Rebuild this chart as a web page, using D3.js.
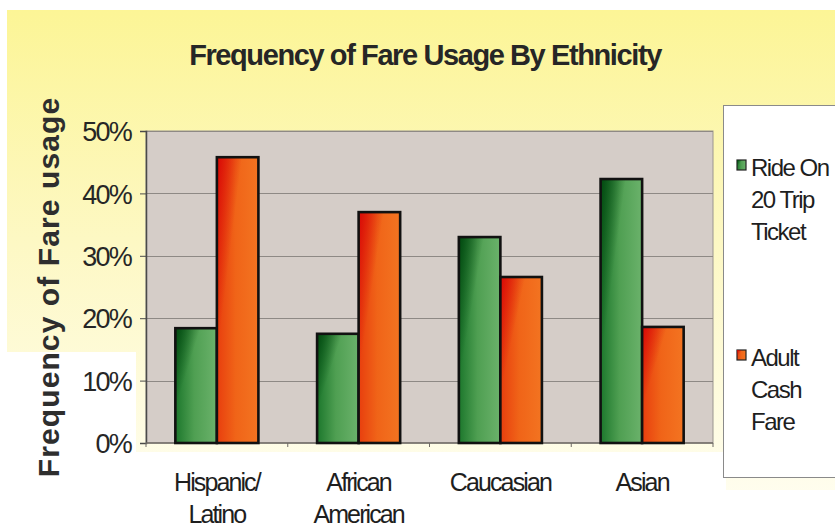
<!DOCTYPE html>
<html>
<head>
<meta charset="utf-8">
<script src="https://cdn.jsdelivr.net/npm/d3@7"></script>
<style>
  html, body { margin: 0; padding: 0; background: #ffffff; }
  svg { display: block; font-family: "Liberation Sans", Arial, sans-serif; }
</style>
</head>
<body>
<svg id="chart" width="835" height="529"></svg>
<script>
// Chart data
const categories = ["Hispanic/\nLatino", "African\nAmerican", "Caucasian", "Asian"];
const seriesNames = ["Ride On\n20 Trip\nTicket", "Adult\nCash\nFare"];
const rideOnTicket = [18.4, 17.5, 33.0, 42.3];
const adultCashFare = [45.8, 37.0, 26.6, 18.6];
const yTicks = [0, 10, 20, 30, 40, 50];
const titleText = "Frequency of Fare Usage By Ethnicity";
const yTitleText = "Frequency of Fare usage";

const seriesValues = [rideOnTicket, adultCashFare];

const svg = d3.select("#chart");
const W = 835, H = 529;
const plot = { left: 146, right: 713, top: 131, bottom: 443 };

const defs = svg.append("defs");

// Background: pale yellow wash fading downward
const bg = defs.append("linearGradient").attr("id", "bgGrad")
  .attr("x1", 0).attr("y1", 0).attr("x2", 0).attr("y2", 1);
bg.append("stop").attr("offset", 0).attr("stop-color", "#fcf596");
bg.append("stop").attr("offset", 0.45).attr("stop-color", "#fdf8c4");
bg.append("stop").attr("offset", 1).attr("stop-color", "#fffef4");

svg.append("rect").attr("width", W).attr("height", H).attr("fill", "#ffffff");
svg.append("rect").attr("x", 7).attr("y", 10).attr("width", W - 7).attr("height", H - 10)
  .attr("fill", "url(#bgGrad)");
// white lower panels around the axes
svg.append("rect").attr("x", 0).attr("y", 352).attr("width", 136).attr("height", H - 352)
  .attr("fill", "#ffffff");
svg.append("rect").attr("x", 0).attr("y", 490).attr("width", W).attr("height", H - 490)
  .attr("fill", "#ffffff");
svg.append("rect").attr("x", 136).attr("y", 452).attr("width", 590).attr("height", 80)
  .attr("fill", "#ffffff");

// Bar fills: horizontal shading plus a darker top
const fills = [
  { id: "green", stops: ["#1c772c", "#4f9f52", "#6bb26b"], top: "#00460e" },
  { id: "orange", stops: ["#e83e0e", "#f06418", "#f37421"], top: "#d80606" }
];
fills.forEach(f => {
  const g = defs.append("linearGradient").attr("id", f.id + "H")
    .attr("x1", 0).attr("y1", 0).attr("x2", 1).attr("y2", 0);
  g.append("stop").attr("offset", 0).attr("stop-color", f.stops[0]);
  g.append("stop").attr("offset", 0.45).attr("stop-color", f.stops[1]);
  g.append("stop").attr("offset", 1).attr("stop-color", f.stops[2]);
  const v = defs.append("linearGradient").attr("id", f.id + "V")
    .attr("x1", 0).attr("y1", 0).attr("x2", 0.35).attr("y2", 0.3);
  v.append("stop").attr("offset", 0).attr("stop-color", f.top).attr("stop-opacity", 0.95);
  v.append("stop").attr("offset", 1).attr("stop-color", f.top).attr("stop-opacity", 0);
});

// Scales
const x0 = d3.scaleBand().domain(d3.range(categories.length))
  .range([plot.left, plot.right]).padding(0);
const groupFrac = 0.586;
const x1 = d3.scaleBand().domain([0, 1])
  .range([x0.bandwidth() * (1 - groupFrac) / 2, x0.bandwidth() * (1 + groupFrac) / 2]);
const y = d3.scaleLinear().domain([0, 50]).range([plot.bottom, plot.top]);

// Plot area
svg.append("rect").attr("x", plot.left).attr("y", plot.top)
  .attr("width", plot.right - plot.left).attr("height", plot.bottom - plot.top)
  .attr("fill", "#d5cdc8").attr("stroke", "#9a9590").attr("stroke-width", 1);

// Gridlines
svg.append("g").selectAll("line").data(yTicks.filter(t => t > 0)).join("line")
  .attr("x1", plot.left).attr("x2", plot.right)
  .attr("y1", d => Math.round(y(d)) + 0.5).attr("y2", d => Math.round(y(d)) + 0.5)
  .attr("stroke", "#8e8985").attr("stroke-width", 1);

// Y axis
const yAxis = d3.axisLeft(y).tickValues(yTicks).tickSize(6).tickPadding(9)
  .tickFormat(d => d + "%");
const yg = svg.append("g").attr("transform", `translate(${plot.left},0)`).call(yAxis);
yg.select(".domain").attr("stroke", "#4a4a4a").attr("stroke-width", 1.5);
yg.selectAll(".tick line").attr("stroke", "#4a4a4a");
yg.selectAll(".tick text").attr("fill", "#262626")
  .style("font-size", "27px").style("letter-spacing", "-1.8px")
  .attr("dy", "0.36em");

// X axis (category boundaries)
const xg = svg.append("g").attr("transform", `translate(0,${plot.bottom})`);
xg.append("line").attr("x1", plot.left).attr("x2", plot.right)
  .attr("stroke", "#6f6a66").attr("stroke-width", 1.5);
xg.selectAll(".b").data(d3.range(categories.length + 1)).join("line")
  .attr("class", "b")
  .attr("x1", d => plot.left + d * x0.step()).attr("x2", d => plot.left + d * x0.step())
  .attr("y1", 0).attr("y2", 4).attr("stroke", "#6f6a66").attr("stroke-width", 1);

// Bars
const groups = svg.append("g").selectAll("g").data(categories).join("g")
  .attr("transform", (d, i) => `translate(${x0(i)},0)`);
groups.each(function(c, i) {
  const g = d3.select(this);
  seriesValues.forEach((vals, s) => {
    const bx = x1(s), by = y(vals[i]), bw = x1.bandwidth(), bh = y(0) - y(vals[i]);
    g.append("rect").attr("x", bx).attr("y", by).attr("width", bw).attr("height", bh)
      .attr("fill", `url(#${fills[s].id}H)`);
    g.append("rect").attr("x", bx).attr("y", by).attr("width", bw).attr("height", bh)
      .attr("fill", `url(#${fills[s].id}V)`)
      .attr("stroke", "#111").attr("stroke-width", 2.6);
  });
});

// Category labels
svg.append("g").selectAll("text").data(categories).join("text")
  .attr("x", (d, i) => x0(i) + x0.bandwidth() / 2)
  .attr("y", 491)
  .attr("text-anchor", "middle").attr("fill", "#1e1e1e")
  .style("font-size", "25px").style("letter-spacing", "-1.9px")
  .each(function(d) {
    d3.select(this).selectAll("tspan").data(d.split("\n")).join("tspan")
      .attr("x", d3.select(this).attr("x"))
      .attr("dy", (t, k) => k === 0 ? 0 : 32)
      .text(t => t);
  });

// Title
svg.append("text").attr("x", 425).attr("y", 65).attr("text-anchor", "middle")
  .attr("fill", "#262626").style("font-size", "29px").style("font-weight", "bold")
  .style("letter-spacing", "-1.4px")
  .text(titleText);

// Y title
svg.append("text").attr("transform", "translate(59,287) rotate(-90)")
  .attr("text-anchor", "middle").attr("fill", "#2e2e2e")
  .style("font-size", "30px").style("font-weight", "bold")
  .style("letter-spacing", "1.1px")
  .text(yTitleText);

// Legend
const lg = svg.append("g");
lg.append("rect").attr("x", 723.5).attr("y", 105.5).attr("width", 140).attr("height", 372)
  .attr("fill", "#ffffff").attr("stroke", "#8a8a8a").attr("stroke-width", 1);
const legendY = [176, 366];
seriesNames.forEach((name, s) => {
  const ty = legendY[s];
  lg.append("rect").attr("x", 737).attr("y", ty - 16).attr("width", 9).attr("height", 10)
    .attr("fill", `url(#${fills[s].id}H)`).attr("stroke", "#222").attr("stroke-width", 1.2);
  lg.append("rect").attr("x", 737).attr("y", ty - 16).attr("width", 9).attr("height", 10)
    .attr("fill", `url(#${fills[s].id}V)`);
  const t = lg.append("text").attr("x", 751).attr("y", ty).attr("fill", "#1e1e1e")
    .style("font-size", "24px").style("letter-spacing", "-1.5px");
  t.selectAll("tspan").data(name.split("\n")).join("tspan")
    .attr("x", 751).attr("dy", (d, k) => k === 0 ? 0 : 32).text(d => d);
});
</script>
</body>
</html>
